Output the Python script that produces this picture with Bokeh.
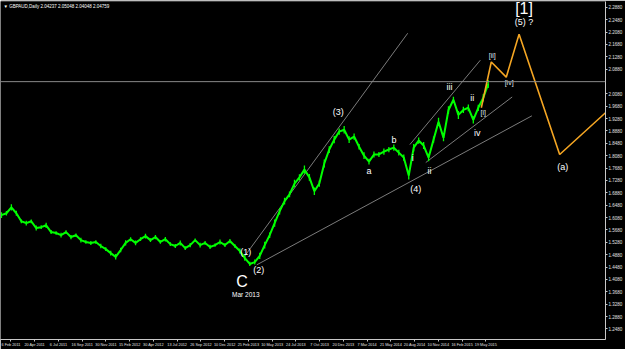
import numpy as np
from bokeh.plotting import figure
from bokeh.models import Range1d, FixedTicker, PrintfTickFormatter, Span, Label
from bokeh.core.properties import value
from bokeh.embed import file_html
from bokeh.resources import INLINE

# ---------------- data ----------------
symbol_text = "\u25bc GBPAUD,Daily  2.04237 2.05048 2.04048 2.04759"
last_price = 2.0475

date_labels = ["6 Feb 2011", "20 Apr 2011", "6 Jul 2011", "16 Sep 2011", "30 Nov 2011",
               "15 Feb 2012", "30 Apr 2012", "13 Jul 2012", "26 Sep 2012", "10 Dec 2012",
               "25 Feb 2013", "10 May 2013", "24 Jul 2013", "7 Oct 2013", "20 Dec 2013",
               "7 Mar 2014", "21 May 2014", "20 Aug 2014", "10 Nov 2014", "16 Feb 2015",
               "19 May 2015"]

price_ticks = [round(1.2080 + 0.04 * k, 4) for k in range(28)]

# price: mid price and high-low spread of each stretch of bars
mid = [1.616, 1.622, 1.641, 1.622, 1.596, 1.590, 1.596, 1.574, 1.577, 1.583,
       1.561, 1.558, 1.551, 1.561, 1.545, 1.551, 1.535, 1.529, 1.526, 1.529,
       1.516, 1.506, 1.493, 1.481, 1.503, 1.526, 1.538, 1.526, 1.538, 1.548,
       1.535, 1.545, 1.529, 1.538, 1.522, 1.516, 1.526, 1.509, 1.519, 1.535,
       1.519, 1.526, 1.513, 1.519, 1.529, 1.519, 1.532, 1.516, 1.500, 1.477,
       1.458, 1.464, 1.484, 1.519, 1.551, 1.590, 1.628, 1.661, 1.683, 1.718,
       1.738, 1.763, 1.738, 1.693, 1.718, 1.783, 1.828, 1.860, 1.886, 1.892,
       1.860, 1.870, 1.837, 1.808, 1.789, 1.812, 1.812, 1.821, 1.828, 1.834,
       1.818, 1.802, 1.744, 1.834, 1.857, 1.841, 1.802, 1.860, 1.918, 1.866,
       1.956, 1.989, 1.940, 1.956, 1.963, 1.924, 1.963, 1.995, 2.040]
spread = [0.018, 0.014, 0.020, 0.016, 0.012, 0.015, 0.012, 0.016, 0.012, 0.017,
          0.013, 0.011, 0.015, 0.012, 0.014, 0.011, 0.015, 0.012, 0.013, 0.011,
          0.014, 0.012, 0.016, 0.018, 0.015, 0.017, 0.013, 0.015, 0.012, 0.016,
          0.012, 0.014, 0.011, 0.015, 0.012, 0.013, 0.016, 0.012, 0.014, 0.011,
          0.015, 0.012, 0.014, 0.011, 0.016, 0.012, 0.014, 0.012, 0.016, 0.018,
          0.014, 0.016, 0.020, 0.022, 0.018, 0.024, 0.020, 0.022, 0.018, 0.024,
          0.020, 0.026, 0.022, 0.024, 0.020, 0.026, 0.022, 0.024, 0.020, 0.024,
          0.022, 0.020, 0.018, 0.022, 0.018, 0.020, 0.016, 0.020, 0.017, 0.020,
          0.018, 0.020, 0.026, 0.024, 0.020, 0.022, 0.024, 0.020, 0.026, 0.022,
          0.024, 0.020, 0.026, 0.020, 0.022, 0.024, 0.020, 0.024, 0.026]
last_bar_x = 20.5

# projection path (orange)
proj_x = [20.21, 20.63, 21.26, 21.80, 23.51, 25.44]
proj_y = [1.963, 2.111, 2.062, 2.201, 1.812, 1.947]

# trend / channel lines (gray)
line_x0 = [10.25, 10.75, 17.20, 17.87]
line_y0 = [1.484, 1.455, 1.844, 1.786]
line_x1 = [17.11, 22.34, 20.17, 21.51]
line_y1 = [2.204, 1.937, 2.117, 1.998]

# wave labels
wave_text = ["(3)", "a", "b", "i", "(4)", "ii", "iii", "ii", "iv", "(1)", "(2)", "(5) ?", "(a)"]
wave_x = [14.18, 15.48, 16.53, 17.32, 17.45, 18.03, 18.87, 19.83, 20.04, 10.29, 10.84, 22.01, 23.64]
wave_y = [1.950, 1.760, 1.860, 1.802, 1.699, 1.760, 2.030, 1.995, 1.882, 1.497, 1.439, 2.239, 1.770]

minor_text = ["[i]", "[ii]", "[iv]"]
minor_x = [20.29, 20.67, 21.38]
minor_y = [1.947, 2.133, 2.046]

big_text = ["[1]", "C"]
big_x = [22.01, 10.13]
big_y = [2.284, 1.400]

# ---------------- figure ----------------
p = figure(width=625, height=349, output_backend="svg", toolbar_location=None,
           x_range=Range1d(-0.04, 25.44), y_range=Range1d(1.2137, 2.3067),
           y_axis_location="right",
           background_fill_color="black", border_fill_color="black",
           min_border_left=0, min_border_right=16, min_border_top=1, min_border_bottom=8)
p.grid.visible = False
p.outline_line_color = None

font = "Liberation Sans"
axis_col = "#c8c8c8"

# x axis
xt = [k + 0.40 for k in range(len(date_labels))]
p.xaxis.ticker = FixedTicker(ticks=xt)
p.xaxis.major_label_overrides = {t: s for t, s in zip(xt, date_labels)}
p.xaxis.major_label_text_font_size = "3.8px"
p.xaxis.major_label_text_font = font
p.xaxis.major_label_text_color = "#e0e0e0"
p.xaxis.major_label_standoff = 1
p.xaxis.major_tick_out = 2
p.xaxis.major_tick_in = 0
p.xaxis.minor_tick_line_color = None
p.xaxis.axis_line_color = axis_col
p.xaxis.major_tick_line_color = axis_col

# y axis
yt = [t for t in price_ticks if abs(t - last_price) > 0.01]
p.yaxis.ticker = FixedTicker(ticks=yt)
p.yaxis.formatter = PrintfTickFormatter(format="%.4f")
p.yaxis.major_label_text_font_size = "4.5px"
p.yaxis.major_label_text_font = font
p.yaxis.major_label_text_color = "#e0e0e0"
p.yaxis.major_label_standoff = 1
p.yaxis.major_tick_out = 2
p.yaxis.major_tick_in = 0
p.yaxis.minor_tick_line_color = None
p.yaxis.axis_line_color = axis_col
p.yaxis.major_tick_line_color = axis_col

# bid line
p.add_layout(Span(location=last_price, dimension="width", line_color="#8a8a8a", line_width=1))

# gray channel lines
p.segment(line_x0, line_y0, line_x1, line_y1, line_color="#9a9a9a", line_width=0.8)

# price: bar ranges plus the path through them
px = np.linspace(0, last_bar_x, len(mid))
mid_a = np.array(mid)
half = np.array(spread) / 2
p.segment(px, mid_a - half, px, mid_a + half, line_color="#00ff00", line_width=1.3)
p.line(px, mid_a, line_color="#00ff00", line_width=2)

# projection
p.line(proj_x, proj_y, line_color="#f5a623", line_width=1.6)

# labels
p.text(wave_x, wave_y, text=wave_text, text_color="white", text_font=value(font),
       text_font_size="9px", text_align="center", text_baseline="middle")
p.text(minor_x, minor_y, text=minor_text, text_color="#dfe8f2", text_font=value(font),
       text_font_size="7px", text_align="center", text_baseline="middle")
p.text(big_x, big_y, text=big_text, text_color="white", text_font=value(font),
       text_font_size="16px", text_align="center", text_baseline="middle")
p.text([10.29], [1.358], text=["Mar 2013"], text_color="white", text_font=value(font),
       text_font_size="6.5px", text_align="center", text_baseline="middle")

p.add_layout(Label(x=3, y=2.2915, x_units="screen", y_units="data", text=symbol_text,
                   text_color="white", text_font=font, text_font_size="4.5px",
                   text_baseline="middle"))
p.add_layout(Label(x=609, y=last_price, x_units="screen", y_units="data", text="2.0475",
                   text_color="black", text_font=font, text_font_size="4.5px",
                   text_baseline="middle", background_fill_color="white"))

open("out.html", "w").write(file_html(p, INLINE))
